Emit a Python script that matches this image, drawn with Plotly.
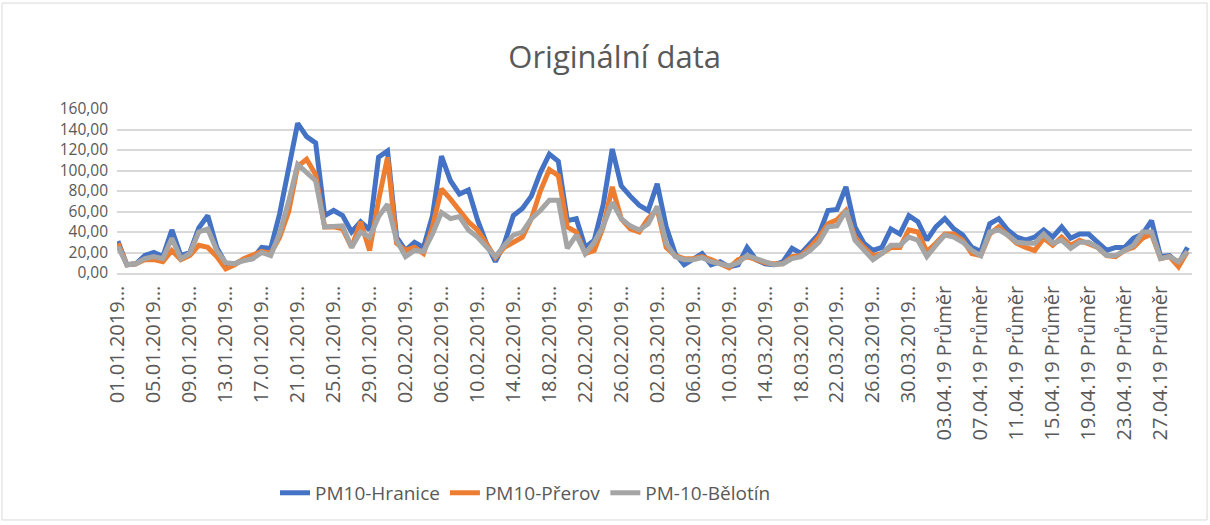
import pandas as pd
import plotly.graph_objects as go

# categories: daily values 01.01.2019 - 30.04.2019
dates = pd.date_range("2019-01-01", "2019-04-30", freq="D").strftime("%d.%m.%Y").tolist()

hranice = [31, 8, 9, 17, 20, 16, 42, 17, 20, 44, 56, 25, 9, 9, 13, 14, 25, 24, 58, 100,
           146, 133, 127, 56, 61, 56, 40, 50, 42, 113, 119, 35, 22, 30, 25, 56, 114, 90, 77, 81,
           52, 29, 11, 29, 56, 63, 75, 98, 116, 109, 51, 53, 25, 32, 67, 121, 85, 75, 66, 61,
           87, 45, 19, 8, 13, 19, 8, 11, 6, 8, 25, 13, 9, 8, 11, 24, 19, 29, 38, 61,
           62, 84, 45, 29, 22, 25, 43, 38, 56, 50, 32, 45, 53, 43, 37, 25, 21, 48, 53, 42,
           35, 32, 35, 42, 35, 45, 34, 38, 38, 30, 22, 25, 25, 34, 38, 51, 16, 17, 9, 25]

prerov = [29, 8, 9, 13, 13, 11, 22, 13, 17, 27, 25, 16, 4, 8, 14, 17, 21, 19, 35, 60,
          104, 111, 96, 45, 45, 43, 25, 50, 22, 71, 113, 29, 22, 25, 19, 45, 82, 72, 61, 50,
          42, 29, 15, 25, 30, 35, 53, 80, 101, 95, 45, 40, 19, 22, 45, 84, 53, 43, 40, 53,
          62, 25, 17, 14, 14, 16, 13, 9, 5, 13, 16, 13, 10, 9, 9, 16, 17, 25, 35, 48,
          52, 61, 35, 25, 17, 19, 25, 25, 42, 40, 21, 29, 38, 38, 32, 19, 17, 38, 45, 37,
          29, 25, 22, 34, 27, 35, 27, 32, 29, 25, 17, 16, 22, 25, 34, 38, 14, 16, 6, 21]

belotin = [26, 8, 9, 14, 16, 14, 34, 14, 19, 40, 43, 22, 10, 9, 12, 14, 20, 17, 39, 70,
           106, 98, 90, 45, 45, 46, 25, 40, 35, 55, 67, 32, 16, 22, 21, 38, 59, 53, 55, 42,
           35, 25, 16, 27, 37, 40, 53, 61, 71, 71, 24, 37, 19, 30, 46, 69, 53, 46, 42, 48,
           65, 29, 16, 13, 13, 15, 11, 9, 7, 10, 17, 14, 11, 8, 9, 14, 16, 22, 30, 45,
           46, 61, 32, 22, 13, 19, 27, 27, 35, 32, 16, 27, 37, 35, 30, 22, 17, 40, 42, 37,
           30, 29, 29, 38, 29, 32, 24, 30, 30, 25, 17, 17, 22, 27, 40, 40, 14, 16, 11, 21]

tick_labels = ["01.01.2019…", "05.01.2019…", "09.01.2019…", "13.01.2019…", "17.01.2019…",
               "21.01.2019…", "25.01.2019…", "29.01.2019…", "02.02.2019…", "06.02.2019…",
               "10.02.2019…", "14.02.2019…", "18.02.2019…", "22.02.2019…", "26.02.2019…",
               "02.03.2019…", "06.03.2019…", "10.03.2019…", "14.03.2019…", "18.03.2019…",
               "22.03.2019…", "26.03.2019…", "30.03.2019…",
               "03.04.19 Průměr", "07.04.19 Průměr", "11.04.19 Průměr", "15.04.19 Průměr",
               "19.04.19 Průměr", "23.04.19 Průměr", "27.04.19 Průměr"]

series = [
    ("PM10-Hranice", hranice, "#4472C4"),
    ("PM10-Přerov", prerov, "#ED7D31"),
    ("PM-10-Bělotín", belotin, "#A5A5A5"),
]

fig = go.Figure()
for name, vals, color in series:
    fig.add_trace(go.Scatter(
        x=dates, y=vals, name=name, mode="lines",
        line=dict(color=color, width=5, shape="linear"),
    ))

text_color = "#595959"
grid_color = "#D9D9D9"

fig.update_layout(
    width=1210, height=525,
    margin=dict(l=117, r=18, t=109, b=252),
    paper_bgcolor="white", plot_bgcolor="white",
    separators=", ",
    font=dict(family="Open Sans", color=text_color),
    title=dict(text="Originální data", x=0.508, xanchor="center", y=0.891, yanchor="middle",
               font=dict(size=31, color=text_color, family="Open Sans")),
    showlegend=True,
    legend=dict(orientation="h", x=0.38, xanchor="center", y=-1.341, yanchor="middle",
                font=dict(size=19, color=text_color, family="Open Sans")),
)

fig.update_xaxes(
    type="category", range=[-0.1, 119.5], automargin=False,
    tickmode="array", tickvals=dates[::4], ticktext=tick_labels,
    tickangle=-90, tickfont=dict(size=20, color=text_color),
    showgrid=False, showline=True, linecolor=grid_color, linewidth=1.5,
    ticks="", ticklabelstandoff=3,
)
fig.update_yaxes(
    range=[0, 160], dtick=20, tickformat=".2f", automargin=False,
    tickfont=dict(size=15.5, color=text_color),
    showgrid=True, gridcolor=grid_color, gridwidth=1.5,
    zeroline=False, showline=False, ticks="", ticklabelstandoff=8,
)

# chart border like the Excel chart frame
fig.add_shape(type="rect", xref="paper", yref="paper",
              x0=-0.107, x1=1.014, y0=-1.506, y1=1.646,
              line=dict(color=grid_color, width=1), layer="below")

fig.write_html("out.html", config={"displayModeBar": False},
               post_script="document.body.style.margin='0';")
